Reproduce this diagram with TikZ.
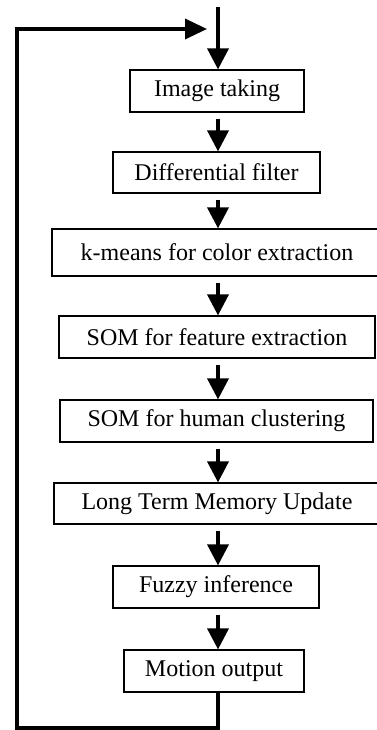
\documentclass[tikz,border=0pt]{standalone}
\usepackage{fontspec}
\setmainfont{Liberation Serif}
\usetikzlibrary{arrows.meta}
\begin{document}
\begin{tikzpicture}[x=1pt,y=-1pt,
  box/.style={draw=black,line width=1.2pt,rectangle,inner sep=0pt,fill=white,
    font=\fontsize{24}{28}\selectfont},
  flow/.style={line width=3.6pt,-{Triangle[length=21pt,width=21pt]},shorten <=6pt},
  loop/.style={line width=3.6pt,line join=miter,-{Triangle[length=22pt,width=20pt]}}]
\useasboundingbox (0,0) rectangle (377,730);
\clip (0,0) rectangle (377,730);
\coordinate (top) at (218,7);
\node[box,minimum width=174pt,minimum height=42pt] (b1) at (217,91) {Image taking};
\node[box,minimum width=207pt,minimum height=41pt] (b2) at (216.5,172.5) {Differential filter};
\node[box,minimum width=330pt,minimum height=47pt] (b3) at (217,252.5) {k-means for color extraction};
\node[box,minimum width=316pt,minimum height=42pt] (b4) at (217,337) {SOM for feature extraction};
\node[box,minimum width=313pt,minimum height=42pt] (b5) at (216.5,421) {SOM for human clustering};
\node[box,minimum width=326pt,minimum height=41pt] (b6) at (217,503.5) {Long Term Memory Update};
\node[box,minimum width=206pt,minimum height=42pt] (b7) at (216,587) {Fuzzy inference};
\node[box,minimum width=180pt,minimum height=42pt] (b8) at (214,671) {Motion output};
\coordinate (lb) at (218,728);
\coordinate (lt) at (17,29);
\coordinate (le) at (207,29);
\draw[flow,shorten <=0pt] (top) -- (b1.north -| top);
\draw[flow] (b1.south -| top) -- (b2.north -| top);
\draw[flow] (b2.south -| top) -- (b3.north -| top);
\draw[flow] (b3.south -| top) -- (b4.north -| top);
\draw[flow] (b4.south -| top) -- (b5.north -| top);
\draw[flow] (b5.south -| top) -- (b6.north -| top);
\draw[flow] (b6.south -| top) -- (b7.north -| top);
\draw[flow] (b7.south -| top) -- (b8.north -| top);
\draw[loop] (b8.south -| top) -- (lb) -| (lt) -- (le);
\end{tikzpicture}
\end{document}
